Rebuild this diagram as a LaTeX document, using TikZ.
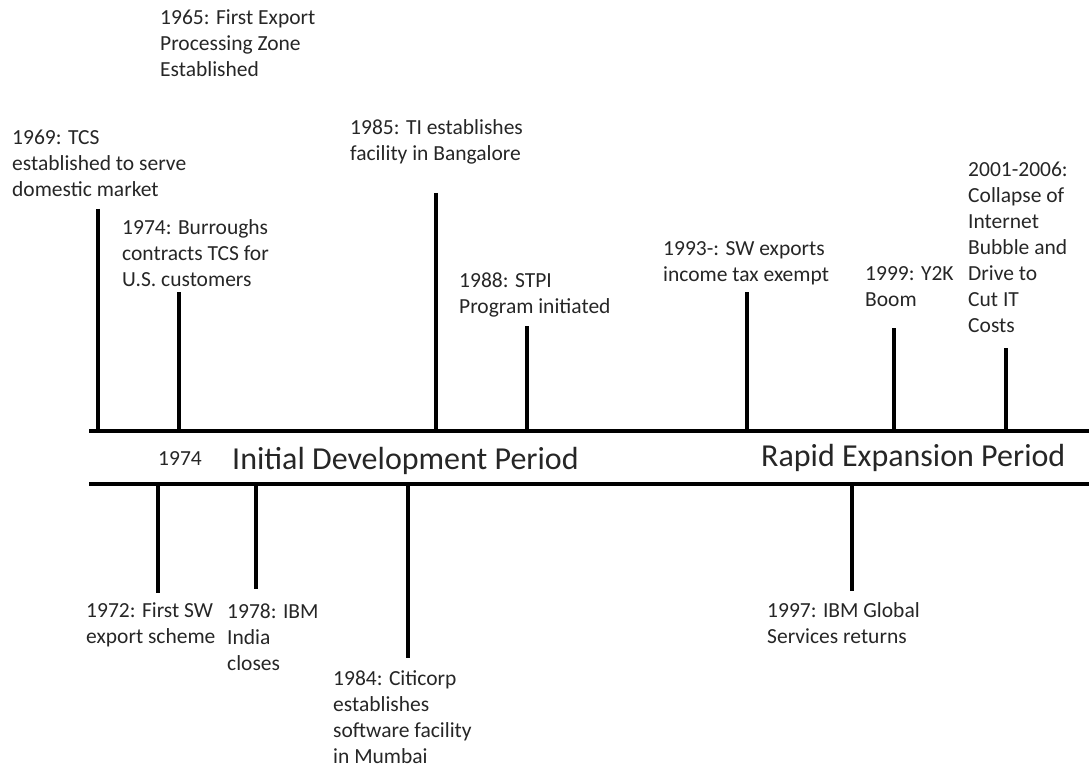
\documentclass[tikz,border=0pt]{standalone}
\usepackage{fontspec}
\setmainfont{Carlito}
\definecolor{labelgray}{HTML}{262626}

\begin{document}
\begin{tikzpicture}[
        x=1pt, y=-1pt,
        event/.style={anchor=base west, align=left, inner sep=0pt,
            text=labelgray, font=\fontsize{21.5}{26}\selectfont},
        period/.style={anchor=base west, inner sep=0pt,
            text=labelgray, font=\fontsize{32}{38}\selectfont},
        stem/.style={line width=3.5pt},
        axis/.style={line width=3.5pt}
    ]
        \useasboundingbox (0,0) rectangle (1089,767);

        % --- Koordinaten ---
        % (Knoten sitzen auf der Grundlinie der letzten Zeile)
        \def\axisTop{431}
        \def\axisBot{484}

        % --- Zeitachse (zwei Linien) ---
        \coordinate (axTL) at (89,\axisTop);
        \coordinate (axTR) at (1089,\axisTop);
        \coordinate (axBL) at (89,\axisBot);
        \coordinate (axBR) at (1089,\axisBot);
        \draw[axis] (axTL) -- (axTR);
        \draw[axis] (axBL) -- (axBR);

        % --- Perioden ---
        \node[event] (y1974) at (158,465) {1974};
        \node[period] (initial) at (232,469) {Initial Development Period};
        \node[period] (rapid) at (761,466) {Rapid Expansion Period};

        % --- Ereignisse oben ---
        \node[event] (e1965) at (160,77) {1965: First Export\\Processing Zone\\Established};
        \node[event] (e1969) at (12,197) {1969: TCS\\established to serve\\domestic market};
        \node[event] (e1974) at (122,287) {1974: Burroughs\\contracts TCS for\\U.S. customers};
        \node[event] (e1985) at (350,161) {1985: TI establishes\\facility in Bangalore};
        \node[event] (e1988) at (459,313) {1988: STPI\\Program initiated};
        \node[event] (e1993) at (663,281) {1993-: SW exports\\income tax exempt};
        \node[event] (e1999) at (865,306) {1999: Y2K\\Boom};
        \node[event] (e2001) at (968,332) {2001-2006:\\Collapse of\\Internet\\Bubble and\\Drive to\\Cut IT\\Costs};

        % Stiele oben
        \coordinate (s1969) at (98,209);
        \coordinate (s1974) at (179,292);
        \coordinate (s1985) at (436,193);
        \coordinate (s1988) at (527,326);
        \coordinate (s1993) at (747,292);
        \coordinate (s1999) at (894,328);
        \coordinate (s2001) at (1006,348);
        \draw[stem] (s1969) -- (s1969 |- axTL);
        \draw[stem] (s1974) -- (s1974 |- axTL);
        \draw[stem] (s1985) -- (s1985 |- axTL);
        \draw[stem] (s1988) -- (s1988 |- axTL);
        \draw[stem] (s1993) -- (s1993 |- axTL);
        \draw[stem] (s1999) -- (s1999 |- axTL);
        \draw[stem] (s2001) -- (s2001 |- axTL);

        % --- Ereignisse unten ---
        \node[event] (e1972) at (86,643) {1972: First SW\\export scheme};
        \node[event] (e1978) at (227,670) {1978: IBM\\India\\closes};
        \node[event] (e1984) at (333,763) {1984: Citicorp\\establishes\\software facility\\in Mumbai};
        \node[event] (e1997) at (767,643) {1997: IBM Global\\Services returns};

        % Stiele unten
        \coordinate (s1972) at (158,593);
        \coordinate (s1978) at (256,589);
        \coordinate (s1984) at (408,658);
        \coordinate (s1997) at (852,591);
        \draw[stem] (s1972 |- axBL) -- (s1972);
        \draw[stem] (s1978 |- axBL) -- (s1978);
        \draw[stem] (s1984 |- axBL) -- (s1984);
        \draw[stem] (s1997 |- axBL) -- (s1997);

    \end{tikzpicture}
\end{document}
